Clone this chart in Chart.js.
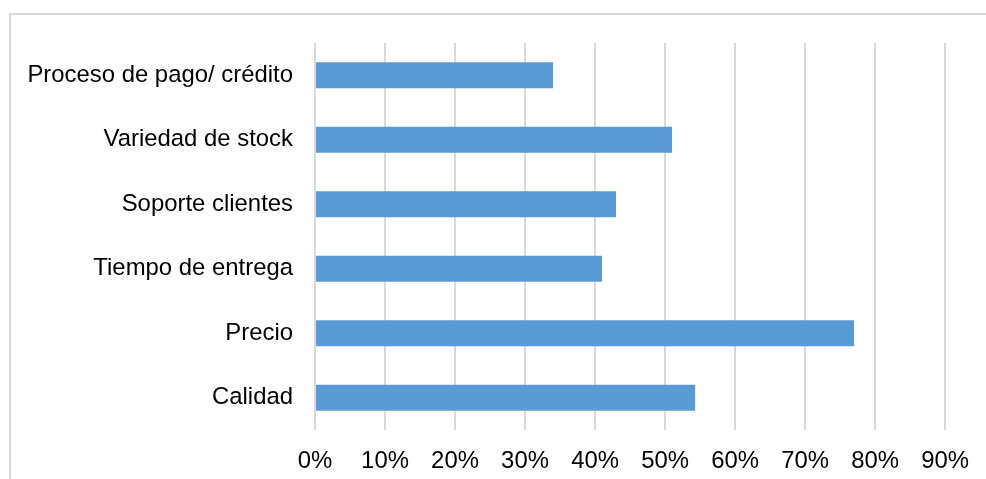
<!DOCTYPE html>
<html>
<head>
<meta charset="utf-8">
<script src="https://cdn.jsdelivr.net/npm/chart.js"></script>
<style>
  html, body { margin: 0; padding: 0; background: #fff; overflow: hidden; }
  #wrap { position: relative; width: 986px; height: 479px; }
  #frame {
    position: absolute; left: 9px; top: 13px; width: 2000px; height: 2000px;
    border-left: 2px solid #d9d9d9; border-top: 2px solid #d9d9d9;
    pointer-events: none;
  }
  canvas { position: absolute; left: 0; top: 0; }
</style>
</head>
<body>
<div id="wrap">
  <div id="frame"></div>
  <canvas id="chart" width="986" height="479"></canvas>
</div>
<script>
// Factores valorados, de arriba hacia abajo
const categorias = [
  'Proceso de pago/ crédito',
  'Variedad de stock',
  'Soporte clientes',
  'Tiempo de entrega',
  'Precio',
  'Calidad'
];
const porcentajes = [0.34, 0.51, 0.43, 0.41, 0.77, 0.543];
const ejeMax = 0.9;
const ejePaso = 0.1;

const FONT = { family: '"Liberation Sans", Arial, sans-serif', size: 23.9 };

new Chart(document.getElementById('chart').getContext('2d'), {
  type: 'bar',
  data: {
    labels: categorias,
    datasets: [{
      data: porcentajes,
      backgroundColor: '#5b9bd5',
      borderWidth: 0,
      categoryPercentage: 1,
      barPercentage: 0.4
    }]
  },
  options: {
    indexAxis: 'y',
    responsive: false,
    animation: false,
    layout: { padding: { top: 43, right: 40, left: 0, bottom: 0 } },
    scales: {
      x: {
        min: 0,
        max: ejeMax,
        grid: { color: '#d9d9d9', lineWidth: 2, drawTicks: false },
        border: { display: false },
        ticks: {
          stepSize: ejePaso,
          color: '#000',
          font: FONT,
          padding: 17,
          callback: v => Math.round(v * 100) + '%'
        },
        afterFit: s => { s.height = 49; }
      },
      y: {
        grid: { display: false, drawTicks: false },
        border: { display: false },
        ticks: { color: '#000', font: FONT, padding: 22 },
        afterFit: s => { s.width = 315; }
      }
    },
    plugins: {
      legend: { display: false },
      tooltip: { enabled: false }
    }
  }
});
</script>
</body>
</html>
